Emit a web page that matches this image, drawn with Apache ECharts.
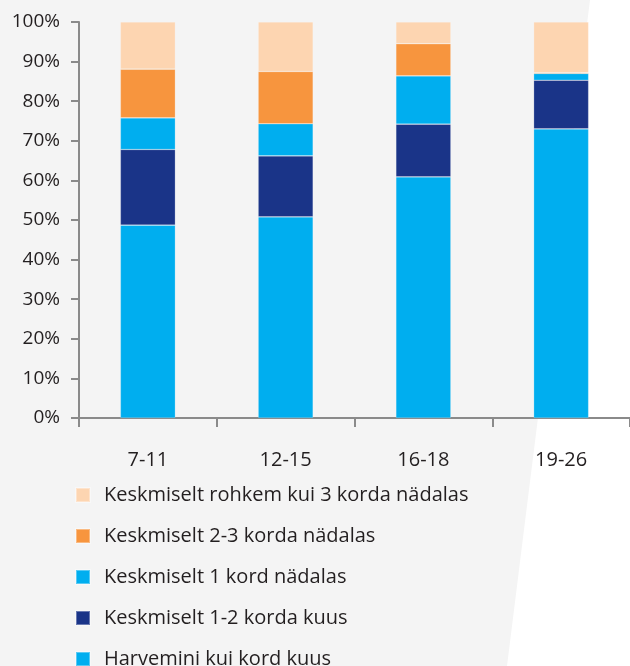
<!DOCTYPE html>
<html>
<head>
<meta charset="utf-8">
<script src="https://cdn.jsdelivr.net/npm/echarts@6/dist/echarts.min.js"></script>
<style>
html,body{margin:0;padding:0;background:#fff;}
#chart{width:630px;height:666px;}
</style>
</head>
<body>
<div id="chart"></div>
<script>
var categories = ['7-11', '12-15', '16-18', '19-26'];
var harvemini = [48.7, 50.8, 60.9, 73.0];
var kuus12 = [19.1, 15.4, 13.3, 12.3];
var nadal1 = [8.0, 8.1, 12.2, 1.7];
var nadal23 = [12.3, 13.2, 8.1, 0.2];
var nadal3plus = [11.9, 12.5, 5.5, 12.8];
var yTicks = [0, 10, 20, 30, 40, 50, 60, 70, 80, 90, 100];

var names = [
  'Harvemini kui kord kuus',
  'Keskmiselt 1-2 korda kuus',
  'Keskmiselt 1 kord nädalas',
  'Keskmiselt 2-3 korda nädalas',
  'Keskmiselt rohkem kui 3 korda nädalas'
];
var colors = ['#00AEEF', '#1A3488', '#00AEEF', '#F7953E', '#FDD5B1'];
var values = [harvemini, kuus12, nadal1, nadal23, nadal3plus];

var FONT = '"Open Sans", sans-serif';
var chart = echarts.init(document.getElementById('chart'), null, {renderer: 'canvas'});

var series = names.map(function (n, i) {
  return {
    name: n,
    type: 'bar',
    stack: 'total',
    barWidth: 55,
    data: values[i],
    itemStyle: {color: colors[i], borderColor: 'rgba(255,255,255,0.35)', borderWidth: 0.6},
    emphasis: {disabled: true}
  };
});

chart.setOption({
  animation: false,
  backgroundColor: '#ffffff',
  graphic: [{
    type: 'polygon',
    z: -10,
    silent: true,
    shape: {points: [[0, 0], [590, 0], [507, 666], [0, 666]]},
    style: {fill: '#f4f4f4'}
  }],
  grid: {left: 79, right: 0, top: 22, bottom: 248, containLabel: false},
  legend: {
    orient: 'vertical',
    left: 75,
    top: 485,
    height: 260,
    padding: 0,
    itemWidth: 14,
    itemHeight: 14,
    itemGap: 21,
    icon: 'rect',
    textStyle: {fontFamily: FONT, fontSize: 20, lineHeight: 20, color: '#231f20', padding: [0, 0, 0, 9]},
    data: names.slice().reverse()
  },
  xAxis: {
    type: 'category',
    data: categories,
    axisLine: {lineStyle: {color: '#8a8a8a', width: 2}},
    axisTick: {show: true, length: 9, lineStyle: {color: '#8a8a8a', width: 2}},
    axisLabel: {fontFamily: FONT, fontSize: 20, color: '#231f20', margin: 32}
  },
  yAxis: {
    type: 'value',
    min: 0,
    max: 100,
    interval: 10,
    splitLine: {show: false},
    axisLine: {show: true, lineStyle: {color: '#8a8a8a', width: 2}},
    axisTick: {show: true, length: 8, lineStyle: {color: '#8a8a8a', width: 2}},
    axisLabel: {
      fontFamily: FONT, fontSize: 19, color: '#231f20', margin: 19,
      formatter: function (v) { return yTicks.indexOf(v) >= 0 ? v + '%' : ''; }
    }
  },
  series: series
});
</script>
</body>
</html>
